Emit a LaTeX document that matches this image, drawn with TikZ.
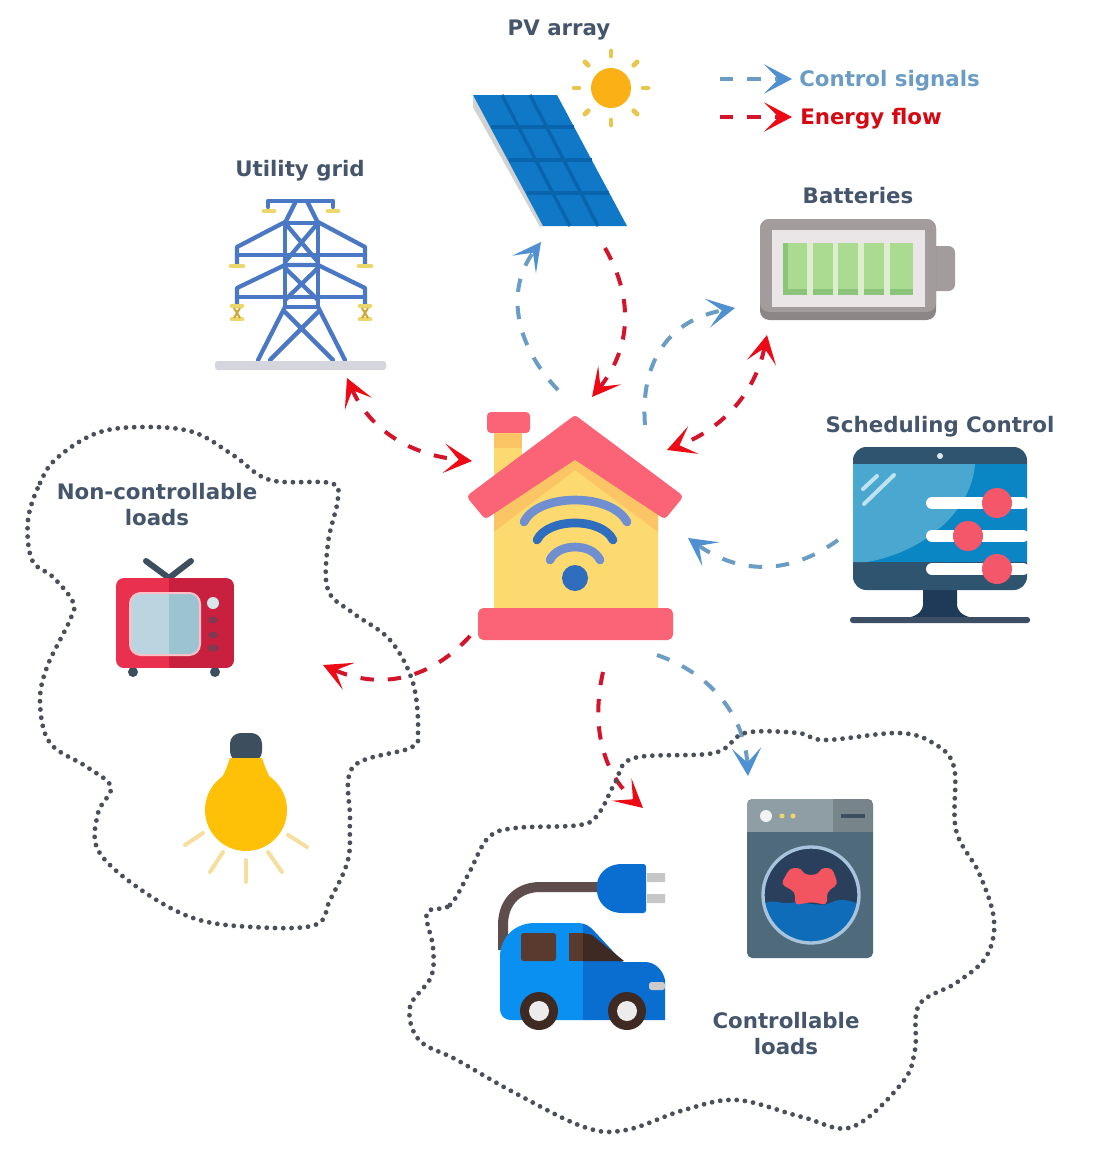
\documentclass[tikz,border=0pt]{standalone}
\usepackage{fontspec}
\setmainfont{DejaVu Sans}
\usetikzlibrary{arrows.meta,calc}
\definecolor{txt}{HTML}{45556B}
\definecolor{ctl}{HTML}{6A9CC4}
\definecolor{ctltip}{HTML}{4F90D2}
\definecolor{eng}{HTML}{D3142B}
\definecolor{engtip}{HTML}{EE0A14}
\definecolor{dotc}{HTML}{4A4F5A}
\definecolor{rooff}{HTML}{FB6477}
\definecolor{wall}{HTML}{FDDA70}
\definecolor{band}{HTML}{FBC565}
\definecolor{wifiA}{HTML}{708FD0}
\definecolor{wifiB}{HTML}{2F6EBE}
\definecolor{panel}{HTML}{0F79C8}
\definecolor{panelD}{HTML}{0A64AC}
\definecolor{sunc}{HTML}{FBB016}
\definecolor{raysun}{HTML}{E9C64E}
\definecolor{towerc}{HTML}{4A78C4}
\definecolor{insul}{HTML}{EBD76A}
\definecolor{bat}{HTML}{A29C9D}
\definecolor{batD}{HTML}{8B8586}
\definecolor{batL}{HTML}{EAE6E8}
\definecolor{cell}{HTML}{AADB90}
\definecolor{cellL}{HTML}{DDEDCF}
\definecolor{cellD}{HTML}{8CC47C}
\definecolor{bez}{HTML}{2F5470}
\definecolor{scrL}{HTML}{4AA8D0}
\definecolor{scrD}{HTML}{0A86C4}
\definecolor{standc}{HTML}{1F3A58}
\definecolor{knob}{HTML}{F4566A}
\definecolor{tvL}{HTML}{E9304F}
\definecolor{tvR}{HTML}{C9203F}
\definecolor{scL}{HTML}{BAD5E0}
\definecolor{scR}{HTML}{9CC4D0}
\definecolor{dk}{HTML}{3D4F5F}
\definecolor{bulb}{HTML}{FFC107}
\definecolor{rayb}{HTML}{F6DF9E}
\definecolor{carL}{HTML}{0A90F0}
\definecolor{carR}{HTML}{0A6DD0}
\definecolor{brownA}{HTML}{5A3A2E}
\definecolor{brownB}{HTML}{3E2A22}
\definecolor{cablec}{HTML}{5E4D4C}
\definecolor{washT}{HTML}{8F9EA4}
\definecolor{washD}{HTML}{77858B}
\definecolor{washB}{HTML}{4F6B7B}
\definecolor{drum}{HTML}{2A3F5C}
\definecolor{water}{HTML}{0E6CB8}
\definecolor{ringc}{HTML}{A8C4DC}
\definecolor{shirt}{HTML}{F25560}
\tikzset{
  lab/.style={font=\bfseries\fontsize{16pt}{19.5pt}\selectfont,text=txt,inner sep=0pt,align=center},
  ctlline/.style={draw=ctl,line width=3pt,dash pattern=on 10pt off 10.5pt,
    -{Stealth[length=21pt,width=22pt,inset=11pt,color=ctltip]}},
  engline/.style={draw=eng,line width=3pt,dash pattern=on 10pt off 10.5pt,
    -{Stealth[length=21pt,width=22pt,inset=11pt,color=engtip]}},
  engboth/.style={draw=eng,line width=3pt,dash pattern=on 10pt off 10.5pt,
    {Stealth[length=21pt,width=22pt,inset=11pt,color=engtip]}-{Stealth[length=21pt,width=22pt,inset=11pt,color=engtip]}},
  blob/.style={draw=dotc,line width=3.6pt,line cap=round,dash pattern=on 0pt off 6.2pt},
  tow/.style={draw=towerc,line width=3.2pt,line cap=round,line join=round},
  ins/.style={draw=insul,line width=3.5pt,line cap=round},
  wifi/.style={line width=6.5pt,line cap=round},
  sunray/.style={draw=raysun,line width=3.5pt,line cap=round},
  bulbray/.style={draw=rayb,line width=3pt,line cap=round},
  slider/.style={draw=white,line width=9pt,line cap=round},
}
\begin{document}
\begin{tikzpicture}[x=0.75pt,y=-0.75pt]
\useasboundingbox[fill=white] (0,0) rectangle (1105,1157);

% ---------- connector ends
\coordinate (pvOut) at (605,248);
\coordinate (homeInPv) at (592,397);
\coordinate (homeOutPv) at (558,390);
\coordinate (pvIn) at (541,242);
\coordinate (gridEnd) at (347,378);
\coordinate (homeGrid) at (472,461);
\coordinate (homeOutBat) at (645,425);
\coordinate (batIn) at (735,308);
\coordinate (batEnd) at (767,335);
\coordinate (homeBat) at (667,450);
\coordinate (schedOut) at (838,540);
\coordinate (homeIn) at (688,538);
\coordinate (homeOutN) at (470,636);
\coordinate (nonIn) at (323,665);
\coordinate (homeOutC) at (603,672);
\coordinate (ctlIn) at (643,808);
\coordinate (homeOutS) at (657,655);
\coordinate (washIn) at (748,776);
\coordinate (legC) at (720,79);
\coordinate (legCe) at (792,79);
\coordinate (legE) at (720,117);
\coordinate (legEe) at (792,117);

% ---------- connectors
\draw[engline] (pvOut) .. controls (635,300) and (630,350) .. (homeInPv);
\draw[ctlline] (homeOutPv) .. controls (515,345) and (505,290) .. (pvIn);
\draw[engboth] (gridEnd) .. controls (370,430) and (410,455) .. (homeGrid);
\draw[ctlline] (homeOutBat) .. controls (640,360) and (670,320) .. (batIn);
\draw[engboth] (batEnd) .. controls (755,395) and (720,430) .. (homeBat);
\draw[ctlline] (schedOut) .. controls (790,575) and (740,575) .. (homeIn);
\draw[engline] (homeOutN) .. controls (430,680) and (380,690) .. (nonIn);
\draw[engline] (homeOutC) .. controls (590,730) and (605,775) .. (ctlIn);
\draw[ctlline] (homeOutS) .. controls (715,675) and (745,720) .. (washIn);
\draw[ctlline] (legC) -- (legCe);
\draw[engline] (legE) -- (legEe);

% ---------- dotted regions
\draw[blob] plot[smooth cycle,tension=0.6] coordinates {(28,520)(40,483)(57,458)(97,433)(143,427)(193,432)(233,455)(270,480)(330,483)(338,498)(328,543)(328,590)(353,613)(390,640)(413,683)(418,733)(410,748)(353,767)(350,820)(348,860)(330,900)(315,925)(253,927)(193,918)(137,887)(98,850)(98,813)(111,787)(87,767)(50,743)(40,703)(47,667)(70,620)(73,602)(53,577)(32,560)};
\draw[blob] plot[smooth cycle,tension=0.6] coordinates {(427,913)(450,905)(469,873)(488,838)(515,828)(580,825)(599,813)(615,783)(634,758)(714,753)(745,733)(798,733)(825,740)(898,733)(933,743)(954,767)(956,830)(979,873)(994,920)(986,957)(956,983)(919,1005)(915,1050)(902,1083)(852,1127)(802,1117)(737,1100)(684,1110)(626,1130)(584,1127)(515,1093)(457,1060)(419,1040)(410,1007)(431,977)(433,947)};

% ---------- labels
\node[lab] (lPv) at (559,30) {PV array};
\node[lab] (lGrid) at (300,171) {Utility grid};
\node[lab] (lBat) at (858,196) {Batteries};
\node[lab] (lSched) at (940,427) {Scheduling Control};
\node[lab] (lNon) at (157,505) {Non-controllable\\loads};
\node[lab] (lCtl) at (786,1034) {Controllable\\loads};
\node[lab,anchor=west,text=ctl] (lLegC) at (799,81) {Control signals};
\node[lab,anchor=west,text=engtip!90!black] (lLegE) at (800,119) {Energy flow};

% ---------- house
\fill[wall] (494,608) -- (494,500) -- (575,440) -- (658,500) -- (658,608) -- cycle;
\fill[band] (494,532) -- (494,495) -- (575,440) -- (658,495) -- (658,532) -- (575,470) -- cycle;
\fill[wall] (494,432) rectangle (522,490);
\fill[band] (494,434) rectangle (522,448);
\fill[rooff,rounded corners=3pt] (487,412) rectangle (530,433);
\fill[rooff,draw=rooff,line width=6pt,line join=round] (575,420) -- (678,497) -- (664,514) -- (575,455) -- (486,514) -- (472,497) -- cycle;
\fill[rooff,rounded corners=4pt] (478,608) rectangle (673,640);
\draw[wifi,wifiA] (524,522) .. controls (538,492.7) and (612,492.7) .. (627,522);
\draw[wifi,wifiB] (537,540) .. controls (548,517.3) and (602,517.3) .. (613,540);
\draw[wifi,wifiA] (550,560) .. controls (558,542.7) and (592,542.7) .. (600,560);
\fill[wifiB] (575,578) circle (13);

% ---------- solar panel & sun
\fill[gray!35] (473,95) -- (473,107) -- (540,227) -- (543,226) -- cycle;
\fill[panel] (473,95) -- (557,95) -- (627,226) -- (543,226) -- cycle;
\begin{scope}[draw=panelD,line width=2.5pt]
\draw (502,95) -- (570,226);
\draw (530,95) -- (598,226);
\draw (491,127) -- (574,127);
\draw (509,160) -- (592,160);
\draw (527,193) -- (609,193);
\end{scope}
\fill[sunc] (611,88) circle (20);
\foreach \a in {0,45,...,315}{
  \draw[sunray] ($(611,88)+(\a:32)$) -- ($(611,88)+(\a:37)$);
}

% ---------- tower
\draw[tow] (268,207) -- (268,201) -- (333,201) -- (333,207);
\draw[tow] (285,223) -- (296,201) (318,223) -- (307,201);
\draw[tow] (285,223) -- (318,223) (285,223) -- (285,307) (318,223) -- (318,307);
\draw[tow] (285,223) -- (318,262) (318,223) -- (285,262);
\draw[tow] (285,265) -- (318,265) (285,268) -- (318,300) (318,268) -- (285,300);
\draw[tow] (285,307) -- (318,307);
\draw[tow] (285,222) -- (237,247) -- (237,265) (318,222) -- (365,247) -- (365,265);
\draw[tow] (237,255) -- (365,255);
\draw[tow] (285,265) -- (237,288) -- (237,305) (318,265) -- (365,288) -- (365,305);
\draw[tow] (237,297) -- (365,297);
\draw[tow] (285,307) -- (258,360) (318,307) -- (345,360);
\draw[tow] (318,312) -- (270,360) (285,312) -- (333,360);
\draw[ins] (264,211) -- (274,211) (328,211) -- (338,211);
\draw[ins] (231,266) -- (243,266) (359,266) -- (371,266);
\draw[ins] (232,306) -- (242,306) (360,306) -- (370,306);
\draw[ins] (232,319) -- (242,319) (360,319) -- (370,319);
\draw[brown!70!yellow,line width=1.5pt] (234,308) -- (240,318) (240,308) -- (234,318) (362,308) -- (368,318) (368,308) -- (362,318);
\fill[blue!10!gray!30,rounded corners=2pt] (215,361) rectangle (386,370);

% ---------- battery
\fill[bat,rounded corners=5pt] (925,246) rectangle (955,291);
\fill[batD,rounded corners=7pt] (760,219) rectangle (936,320);
\fill[bat,rounded corners=7pt] (760,219) rectangle (936,312);
\fill[batL] (772,230) rectangle (925,307);
\fill[cellL] (783,243) rectangle (913,295);
\foreach \xa/\xb in {783/807,813/833,838/858,864/884,890/913}{
  \fill[cell] (\xa,243) rectangle (\xb,295);
  \fill[cellD] (\xa,289) rectangle (\xb,295);
}
\fill[cellD] (783,243) rectangle (788,295);

% ---------- monitor
\fill[standc] (923,584) -- (957,584) -- (957,605) .. controls (958,613) and (965,617) .. (975,618) -- (905,618) .. controls (915,617) and (922,613) .. (923,605) -- cycle;
\fill[standc!70!gray,rounded corners=2pt] (850,617) rectangle (1030,623);
\fill[bez,rounded corners=10pt] (853,447) rectangle (1027,590);
\fill[scrD] (853,464) rectangle (1027,562);
\fill[scrL] (853,464) -- (975,464) .. controls (972,510) and (925,552) .. (867,562) -- (853,562) -- cycle;
\fill[white!80!gray] (940,456) circle (3);
\draw[white!65!scrL,line width=3pt,line cap=round] (863,489) -- (877,476) (864,504) -- (894,475);
\draw[slider] (932,503) -- (1023,503);
\draw[slider] (932,536) -- (1023,536);
\draw[slider] (932,569) -- (1023,569);
\fill[knob] (997,503) circle (15) (968,536) circle (15) (997,569) circle (15);

% ---------- TV
\draw[dk,line width=4.5pt,line cap=round] (146,561) -- (169,578) -- (191,561);
\fill[dk] (133,672) circle (5) (215,672) circle (5);
\begin{scope}
\clip[rounded corners=6pt] (116,578) rectangle (234,668);
\fill[tvL] (116,578) rectangle (169,668);
\fill[tvR] (169,578) rectangle (234,668);
\end{scope}
\begin{scope}
\clip[rounded corners=8pt] (130,593) rectangle (200,655);
\fill[scL] (130,593) rectangle (169,655);
\fill[scR] (169,593) rectangle (200,655);
\end{scope}
\draw[rooff!40!white,line width=1.5pt,rounded corners=8pt] (130,593) rectangle (200,655);
\fill[scL!60!white] (213,603) circle (6);
\fill[tvR!50!dk] (213,620) ellipse (5 and 3.5) (213,635) ellipse (5 and 3.5) (213,648) ellipse (6 and 3.5);

% ---------- bulb
\foreach \xa/\ya/\xb/\yb in {185/845/203/833,210/872/223/852,246/860/246/882,268/852/282/872,288/835/307/847}{
  \draw[bulbray] (\xa,\ya) -- (\xb,\yb);
}
\fill[dk,rounded corners=8pt] (230,762) -- (230,733) -- (262,733) -- (262,762) -- cycle;
\fill[bulb] (230,758) -- (262,758) .. controls (266,770) and (270,780) .. (277,787) -- (215,787) .. controls (222,780) and (226,770) .. (230,758) -- cycle;
\fill[bulb] (246,810) circle (41);

% ---------- EV + plug
\draw[cablec,line width=7.5pt] (503,950) -- (503,925) .. controls (503,900) and (520,887) .. (540,887) -- (600,887);
\fill[carR,rounded corners=2pt] (646,864) -- (646,913) -- (625,913) .. controls (605,913) and (597,900) .. (597,888) .. controls (597,876) and (605,864) .. (625,864) -- cycle;
\fill[gray!45] (647,873) rectangle (665,882) (647,894) rectangle (665,903);
\begin{scope}
\clip (500,1008) .. controls (500,1016) and (504,1020) .. (512,1020) -- (665,1020) -- (665,980) .. controls (663,970) and (655,962) .. (645,962) -- (623,962) -- (595,932) .. controls (590,926) and (585,923) .. (578,923) -- (535,923) .. controls (515,923) and (500,937) .. (500,957) -- cycle;
\fill[carL] (500,920) rectangle (583,1022);
\fill[carR] (583,920) rectangle (667,1022);
\end{scope}
\fill[brownA,rounded corners=2pt] (521,933) rectangle (556,961);
\fill[brownA] (569,933) rectangle (583,961);
\fill[brownB] (583,933) -- (592,935) -- (624,961) -- (583,961) -- cycle;
\fill[gray!40!white,rounded corners=2pt] (649,982) rectangle (665,990);
\fill[brownB] (539,1011) circle (19) (627,1011) circle (19);
\fill[gray!15] (539,1011) circle (10) (627,1011) circle (10);

% ---------- washer
\fill[washB,rounded corners=4pt] (747,799) rectangle (873,958);
\begin{scope}
\clip[rounded corners=4pt] (747,799) rectangle (873,958);
\fill[washT] (747,799) rectangle (833,832);
\fill[washD] (833,799) rectangle (873,832);
\end{scope}
\fill[gray!10] (766,816) circle (6);
\fill[insul] (782,816) circle (2.5) (793,816) circle (2.5);
\fill[dk] (841,814) rectangle (865,818);
\fill[drum] (811,895) circle (48);
\begin{scope}
\clip (811,895) circle (48);
\fill[water] (755,910) .. controls (770,895) and (780,905) .. (790,903) .. controls (800,900) and (820,908) .. (830,903) .. controls (845,895) and (855,905) .. (867,905) -- (867,950) -- (755,950) -- cycle;
\end{scope}
\draw[ringc,line width=2.5pt] (811,895) circle (48);
\fill[shirt,rounded corners=3pt] (790,868) -- (801,868) .. controls (805,876) and (817,876) .. (821,868) -- (832,868) -- (838,884) -- (827,892) -- (827,905) -- (812,902) -- (795,905) -- (795,892) -- (781,884) -- cycle;
\end{tikzpicture}
\end{document}
